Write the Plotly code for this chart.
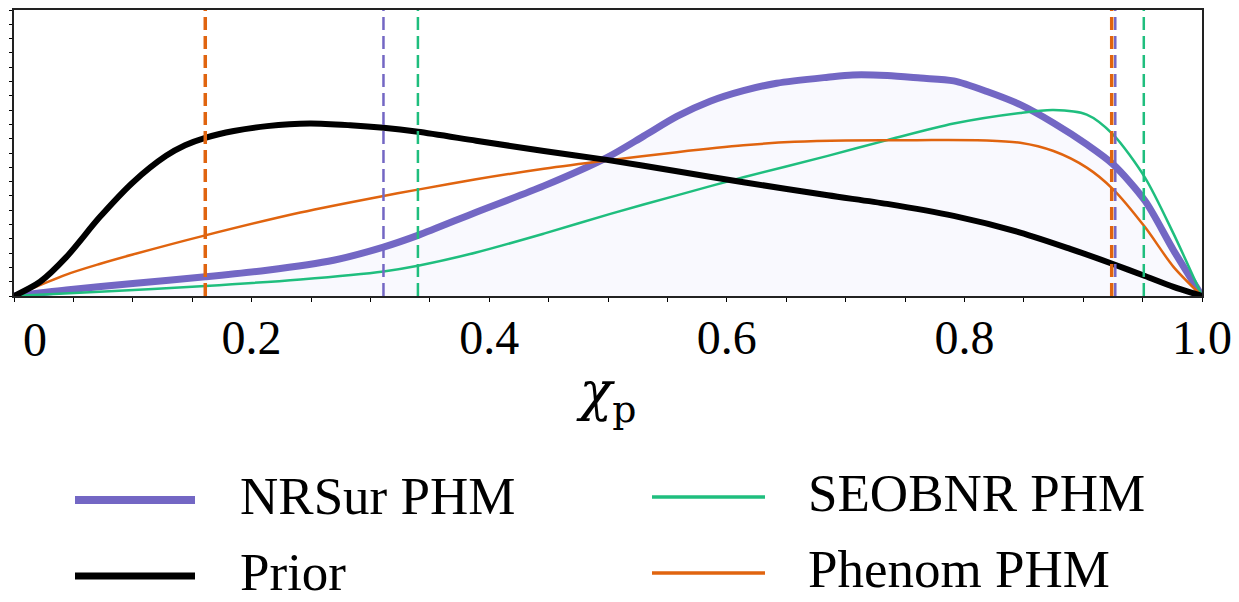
import plotly.graph_objects as go

# ---- data ----
chi_nrsur = [0, 0.044, 0.10, 0.161, 0.213, 0.269, 0.311, 0.340, 0.389, 0.446, 0.499, 0.530, 0.558,
             0.586, 0.614, 0.642, 0.685, 0.706, 0.735, 0.763, 0.791, 0.819, 0.847, 0.875, 0.903,
             0.925, 0.952, 0.976, 1.0]
nrsur = [0, 0.021, 0.044, 0.067, 0.090, 0.125, 0.171, 0.212, 0.293, 0.385, 0.484, 0.559, 0.628,
         0.681, 0.718, 0.744, 0.765, 0.773, 0.771, 0.762, 0.752, 0.715, 0.669, 0.605, 0.530,
         0.461, 0.333, 0.160, 0]

chi_seob = [0, 0.072, 0.161, 0.241, 0.311, 0.340, 0.389, 0.446, 0.502, 0.558, 0.614, 0.685,
            0.735, 0.791, 0.847, 0.875, 0.903, 0.925, 0.952, 0.976, 1.0]
seob = [0, 0.015, 0.035, 0.058, 0.086, 0.106, 0.152, 0.218, 0.287, 0.352, 0.415, 0.490,
        0.545, 0.603, 0.640, 0.650, 0.634, 0.565, 0.414, 0.218, 0]

chi_phenom = [0, 0.044, 0.072, 0.10, 0.161, 0.241, 0.311, 0.340, 0.389, 0.446, 0.499, 0.558, 0.614,
              0.657, 0.70, 0.76, 0.819, 0.847, 0.875, 0.903, 0.925, 0.952, 0.976, 1.0]
phenom = [0, 0.075, 0.112, 0.145, 0.212, 0.292, 0.350, 0.372, 0.408, 0.445, 0.474, 0.503, 0.527,
          0.539, 0.544, 0.545, 0.544, 0.536, 0.507, 0.449, 0.374, 0.241, 0.102, 0]

chi_prior = [0, 0.022, 0.044, 0.072, 0.10, 0.128, 0.144, 0.161, 0.185, 0.213, 0.249, 0.283, 0.311,
             0.340, 0.389, 0.446, 0.499, 0.558, 0.614, 0.685, 0.735, 0.791, 0.847, 0.889,
             0.925, 0.952, 0.976, 1.0]
prior = [0, 0.05, 0.136, 0.275, 0.397, 0.490, 0.527, 0.553, 0.577, 0.594, 0.603, 0.597, 0.588,
         0.574, 0.543, 0.507, 0.476, 0.436, 0.398, 0.352, 0.322, 0.280, 0.222, 0.165,
         0.112, 0.070, 0.032, 0]

# 90% credible-interval bounds (NRSur, SEOBNR, Phenom)
ci_names = ["NRSur PHM", "SEOBNR PHM", "Phenom PHM"]
ci_lower = [0.311, 0.340, 0.161]
ci_upper = [0.927, 0.951, 0.924]

xtick_vals = [0.2, 0.4, 0.6, 0.8, 1.0]
xtick_text = ["0.2", "0.4", "0.6", "0.8", "1.0"]
zero_tick = 0.0
zero_label = "0"  # drawn right of its tick, as in the reference
minor_step = 0.05
ytick_vals = [round(0.05 * i, 2) for i in range(21)]

legend_names = ["NRSur PHM", "Prior", "SEOBNR PHM", "Phenom PHM"]

PURPLE = "#7367c4"
GREEN = "#1fbe7e"
ORANGE = "#e0640f"
BLACK = "#000000"
colors = {"NRSur PHM": PURPLE, "SEOBNR PHM": GREEN, "Phenom PHM": ORANGE, "Prior": BLACK}
widths = {"NRSur PHM": 7, "SEOBNR PHM": 2.5, "Phenom PHM": 2.5, "Prior": 6}
dash_w = {"NRSur PHM": 2.5, "SEOBNR PHM": 2.5, "Phenom PHM": 3.5}

FONT = "Liberation Serif"

fig = go.Figure()

fig.add_trace(go.Scatter(x=chi_nrsur, y=nrsur, mode="lines", fill="tozeroy",
                         fillcolor="rgba(110,110,235,0.045)",
                         line=dict(color=colors["NRSur PHM"], width=widths["NRSur PHM"],
                                   shape="spline", smoothing=0.8),
                         name="NRSur PHM", showlegend=False))
fig.add_trace(go.Scatter(x=chi_seob, y=seob, mode="lines",
                         line=dict(color=colors["SEOBNR PHM"], width=widths["SEOBNR PHM"],
                                   shape="spline", smoothing=0.8),
                         name="SEOBNR PHM", showlegend=False))
fig.add_trace(go.Scatter(x=chi_phenom, y=phenom, mode="lines",
                         line=dict(color=colors["Phenom PHM"], width=widths["Phenom PHM"],
                                   shape="spline", smoothing=0.8),
                         name="Phenom PHM", showlegend=False))
fig.add_trace(go.Scatter(x=chi_prior, y=prior, mode="lines",
                         line=dict(color=colors["Prior"], width=widths["Prior"],
                                   shape="spline", smoothing=0.8),
                         name="Prior", showlegend=False))

for nm, lo, hi in zip(ci_names, ci_lower, ci_upper):
    for v in (lo, hi):
        fig.add_trace(go.Scatter(x=[v, v], y=[0, 1], mode="lines",
                                 line=dict(color=colors[nm], width=dash_w[nm], dash="13px,6px"),
                                 showlegend=False, hoverinfo="skip"))

# ---- manual legend (2 columns); positions in page pixels ----
PLOT_TOP = 10
PLOT_BOTTOM = 296

def px2x(px):
    return (px - 14) / 1188.0

def py2y(py):
    return (PLOT_BOTTOM - py) / float(PLOT_BOTTOM - PLOT_TOP)

leg_pos = {
    "NRSur PHM": (75, 195, 238, 500),
    "Prior": (75, 195, 238, 576),
    "SEOBNR PHM": (652, 765, 806, 497),
    "Phenom PHM": (652, 765, 806, 573),
}
leg_w = {"NRSur PHM": 8, "Prior": 7, "SEOBNR PHM": 3.5, "Phenom PHM": 3.5}
shapes = []
annotations = []
for nm in legend_names:
    x0, x1, tx, cy = leg_pos[nm]
    shapes.append(dict(type="line", xref="paper", yref="paper",
                       x0=px2x(x0), x1=px2x(x1), y0=py2y(cy), y1=py2y(cy),
                       line=dict(color=colors[nm], width=leg_w[nm])))
    annotations.append(dict(text=nm, xref="paper", yref="paper", x=px2x(tx), y=py2y(cy - 4),
                            xanchor="left", yanchor="middle", showarrow=False,
                            font=dict(family=FONT, size=53, color="black")))

annotations.append(dict(text=zero_label, xref="x", yref="paper", x=zero_tick, xshift=21,
                        y=py2y(340), xanchor="center", yanchor="middle", showarrow=False,
                        font=dict(family=FONT, size=48, color="black")))

# the page body has an 8px margin, so the figure is 8px smaller and offset
fig.update_layout(
    width=1231, height=594,
    margin=dict(l=6, r=37, t=PLOT_TOP - 8, b=594 - (PLOT_BOTTOM - 8)),
    paper_bgcolor="white", plot_bgcolor="white",
    shapes=shapes, annotations=annotations,
    showlegend=False,
    xaxis=dict(range=[0, 1], tickmode="array", tickvals=xtick_vals, ticktext=xtick_text,
               ticks="outside", ticklen=4, tickwidth=1.2, tickcolor="black",
               minor=dict(ticks="outside", dtick=minor_step, tick0=0, ticklen=4, tickwidth=1.2,
                          tickcolor="black", showgrid=False),
               automargin=False, ticklabeloverflow="allow", ticklabelstandoff=-6,
               showgrid=False, zeroline=False, showline=True, linecolor="#222", linewidth=1.8,
               mirror=True, tickfont=dict(family=FONT, size=48, color="black"),
               title=dict(text="<i>χ</i><sub>p</sub>", font=dict(family="DejaVu Serif", size=54, color="black"),
                          standoff=10)),
    yaxis=dict(range=[0, 1], tickmode="array", tickvals=ytick_vals, showticklabels=False,
               ticks="outside", ticklen=3, tickwidth=1, tickcolor="black", automargin=False,
               showgrid=False, zeroline=False, showline=True, linecolor="#222", linewidth=1.8,
               mirror=True),
)

fig.write_html("out.html")
